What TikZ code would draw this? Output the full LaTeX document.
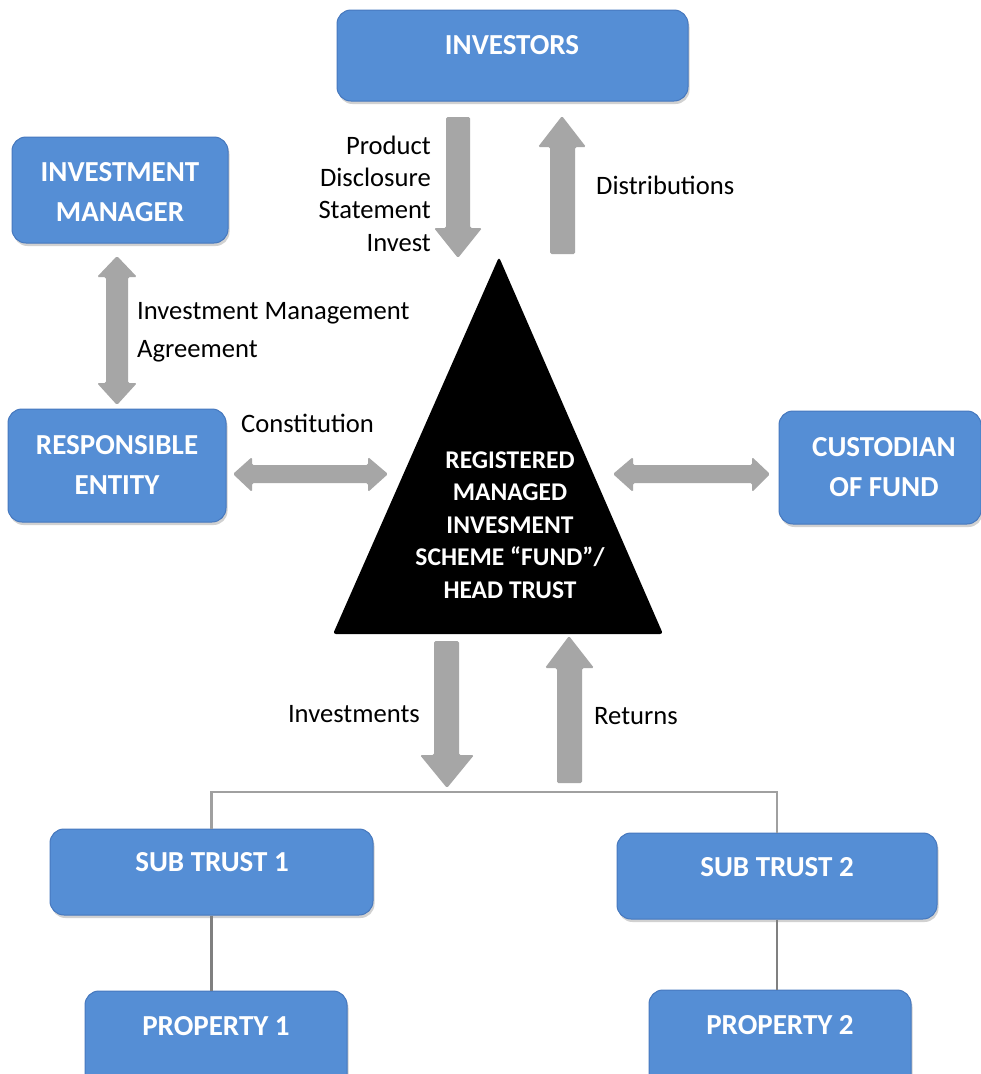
\documentclass[tikz,border=0pt]{standalone}
\usepackage{fontspec}
\setmainfont{Carlito}
\usetikzlibrary{shadows}
\definecolor{boxblue}{RGB}{85,142,213}
\definecolor{boxedge}{RGB}{70,120,190}
\definecolor{arrgray}{RGB}{166,166,166}
\definecolor{linegray}{RGB}{160,160,160}
\definecolor{darkline}{RGB}{128,128,128}
\tikzset{
  box/.style={draw=boxedge, line width=1pt, fill=boxblue, rounded corners=14pt,
    inner sep=0pt, drop shadow={shadow xshift=1.5pt, shadow yshift=-3pt, opacity=0.18, fill=black}},
  head/.style={text=white, font=\fontsize{29}{40}\selectfont\bfseries, align=center, inner sep=0pt},
  lbl/.style={text=black, font=\fontsize{26.6}{32.3}\selectfont, inner sep=0pt},
  blockarrow/.style={fill=arrgray, rounded corners=1.5pt},
  bar/.style={draw=linegray, line width=2.6pt},
  stem/.style={draw=darkline, line width=2.8pt},
}
\begin{document}
\begin{tikzpicture}[x=1pt, y=-1pt]
\clip (0,0) rectangle (981,1074);
\fill[white] (0,0) rectangle (981,1074);

% boxes
\node[box, minimum width=351, minimum height=91] (inv) at (512.5,55.5) {};
\node[box, minimum width=216, minimum height=106] (im) at (120,190) {};
\node[box, minimum width=218, minimum height=113] (re) at (117,465.5) {};
\node[box, minimum width=202, minimum height=113] (cus) at (880,467.5) {};
\node[box, minimum width=323, minimum height=86] (st1) at (211.5,872) {};
\node[box, minimum width=320, minimum height=86] (st2) at (777,876) {};
\node[box, minimum width=262, minimum height=100] (p1) at (216,1041) {};
\node[box, minimum width=262, minimum height=100] (p2) at (780,1040) {};

\node[head] (tinv) at (512,45) {INVESTORS};
\node[head] (tim) at (120,192) {INVESTMENT\\MANAGER};
\node[head] (tre) at (117,465) {RESPONSIBLE\\ENTITY};
\node[head] (tcus) at (884,467.5) {CUSTODIAN\\OF FUND};
\node[head] (tst1) at (212,862) {SUB TRUST 1};
\node[head] (tst2) at (777,867) {SUB TRUST 2};
\node[head] (tp1) at (216,1026) {PROPERTY 1};
\node[head] (tp2) at (780,1025) {PROPERTY 2};

% triangle
\fill[black, rounded corners=3pt] (499,257) -- (663,634) -- (333,634) -- cycle;
\node[head, font=\fontsize{25.5}{32.5}\selectfont\bfseries] (fund) at (510,525)
  {REGISTERED\\MANAGED\\INVESMENT\\SCHEME “FUND”/\\HEAD TRUST};

% block arrows
\fill[blockarrow] (446,117) -- (470,117) -- (470,228) -- (482,228) -- (458,258) -- (434,228) -- (446,228) -- cycle;
\fill[blockarrow] (550,254) -- (575,254) -- (575,147) -- (586,147) -- (562,116) -- (538,147) -- (550,147) -- cycle;
\fill[blockarrow] (106,277) -- (97,277) -- (117,256) -- (137,277) -- (128,277) -- (128,383) -- (137,383) -- (117,405) -- (97,383) -- (106,383) -- cycle;
\fill[blockarrow] (252,465) -- (252,457) -- (233,474) -- (252,492) -- (252,483) -- (368,483) -- (368,492) -- (388,474) -- (368,457) -- (368,465) -- cycle;
\fill[blockarrow] (633,465) -- (633,457) -- (613,474) -- (633,492) -- (633,483) -- (752,483) -- (752,492) -- (770,474) -- (752,457) -- (752,465) -- cycle;
\fill[blockarrow] (434,641) -- (459,641) -- (459,755) -- (474,755) -- (447,788) -- (420,755) -- (434,755) -- cycle;
\fill[blockarrow] (557,783) -- (582,783) -- (582,668) -- (594,668) -- (569,636) -- (545,668) -- (557,668) -- cycle;

% labels
\node[lbl, align=right, anchor=east] (lpds) at (431,193.5) {Product\\Disclosure\\Statement\\Invest};
\node[lbl, anchor=west] (ldist) at (596,185) {Distributions};
\node[lbl, anchor=west, align=left, font=\fontsize{26.6}{38}\selectfont] (lima) at (137,332) {Investment Management\\Agreement};
\node[lbl, anchor=west] (lcon) at (241,423) {Constitution};
\node[lbl, anchor=east] (linv) at (420,714) {Investments};
\node[lbl, anchor=west] (lret) at (594,716) {Returns};

% connectors
\coordinate (barmid) at (495,792);
\draw[bar] (st1.north) |- (barmid) -| (st2.north);
\draw[stem] (st1.south) -- (st1.south |- p1.north);
\draw[stem] (st2.south) -- (st2.south |- p2.north);
\end{tikzpicture}
\end{document}
